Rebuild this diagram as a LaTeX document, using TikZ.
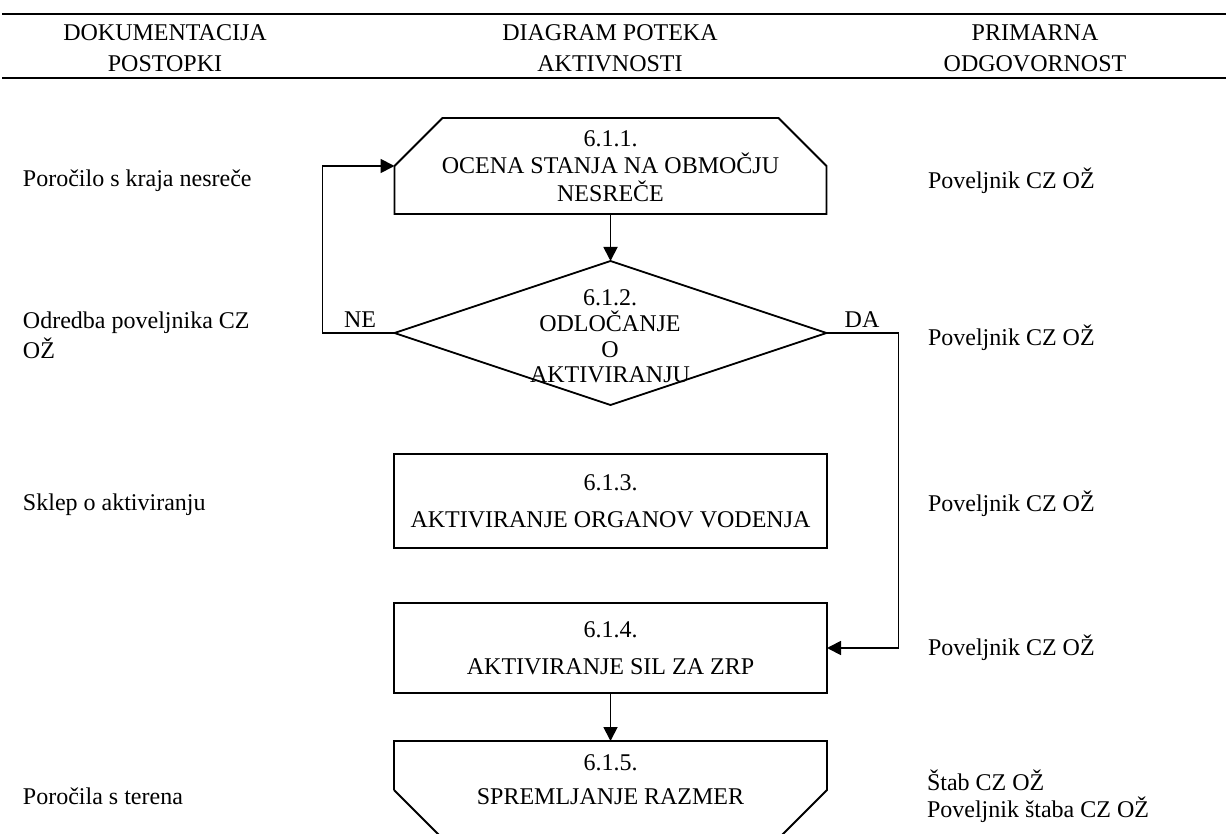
\documentclass[tikz,border=0pt]{standalone}
\usepackage{fontspec}
\setmainfont{Liberation Serif}
\usetikzlibrary{arrows.meta,shapes.geometric,calc}
\begin{document}
\begin{tikzpicture}[x=1pt,y=-1pt,
  every node/.style={inner sep=0pt, outer sep=0pt, font=\fontsize{24}{30}\selectfont},
  ln/.style={line width=1.8pt},
  arr/.style={ln, -{Triangle[length=14pt,width=14pt]}},
  rule/.style={line width=2.8pt},
  hdr/.style={align=center, font=\fontsize{24}{31}\selectfont},
  lefttxt/.style={anchor=base west},
  boxnode/.style={draw, ln, minimum width=433pt, align=center, font=\fontsize{24}{37}\selectfont},
  yn/.style={anchor=center}
]
\useasboundingbox (0,0) rectangle (1226,834);
\clip (0,0) rectangle (1226,834);

% header
\draw[rule] (2,14) -- (1226,14);
\draw[rule] (2,78) -- (1226,78);
\node[hdr] (h1) at (165,48.5) {DOKUMENTACIJA\\POSTOPKI};
\node[hdr] (h2) at (610,48.5) {DIAGRAM POTEKA\\AKTIVNOSTI};
\node[hdr] (h3) at (1035,48.5) {PRIMARNA\\ODGOVORNOST};

% 6.1.1
\node[minimum width=432pt, minimum height=96pt, align=center, font=\fontsize{24}{27.5}\selectfont] (s1) at (610.5,166) {6.1.1.\\OCENA STANJA NA OBMOČJU\\NESREČE};
\draw[ln] (s1.south west) -- (s1.west) -- ($(s1.north west)+(48,0)$) -- ($(s1.north east)+(-48,0)$) -- (s1.east) -- (s1.south east) -- cycle;

% 6.1.2 diamond
\node[draw, ln, diamond, minimum width=432pt, minimum height=144pt] (d) at (610.5,333) {};
\node[align=center, font=\fontsize{24}{25.7}\selectfont] (dt) at (610,336.5) {6.1.2.\\ODLOČANJE\\O\\AKTIVIRANJU};

% 6.1.3
\node[boxnode, minimum height=94pt] (b3) at (610.5,501) {6.1.3.\\AKTIVIRANJE ORGANOV VODENJA};

% 6.1.4
\node[boxnode, minimum height=90pt] (b4) at (610.5,648) {6.1.4.\\AKTIVIRANJE SIL ZA ZRP};

% 6.1.5
\node[minimum width=433pt, minimum height=78pt, anchor=north, align=center, font=\fontsize{24}{34}\selectfont] (s5) at (610.5,741) {6.1.5.\\SPREMLJANJE RAZMER};
\draw[ln] ($(s5.north west)+(0,49)$) -- (s5.north west) -- (s5.north east) -- ($(s5.north east)+(0,49)$) -- ++(-60,60);
\draw[ln] ($(s5.north west)+(0,49)$) -- ++(60,60);

% connectors
\draw[arr] (s1.south) -- (d.north);
\draw[arr] (d.west) -- ++(-72,0) |- (s1.west);
\draw[arr] (d.east) -- ++(72,0) |- (b4.east);
\draw[arr] (b4.south) -- (s5.north);
\node[yn] (ne) at (360,320) {NE};
\node[yn] (da) at (862,320) {DA};

% left column
\node[lefttxt] (l1) at (23,187) {Poročilo s kraja nesreče};
\node[align=left, anchor=north west] (l2) at (23,311.5) {Odredba poveljnika CZ\\OŽ};
\node[lefttxt] (l3) at (23,510) {Sklep o aktiviranju};
\node[lefttxt] (l4) at (23,804) {Poročila s terena};

% right column
\node[lefttxt] (r1) at (928,189) {Poveljnik CZ OŽ};
\node[lefttxt] (r2) at (928,345) {Poveljnik CZ OŽ};
\node[lefttxt] (r3) at (928,511) {Poveljnik CZ OŽ};
\node[lefttxt] (r4) at (928,655) {Poveljnik CZ OŽ};
\node[align=left, anchor=west, font=\fontsize{24}{27}\selectfont] (r5) at (927,796.5) {Štab CZ OŽ\\Poveljnik štaba CZ OŽ};
\end{tikzpicture}
\end{document}
